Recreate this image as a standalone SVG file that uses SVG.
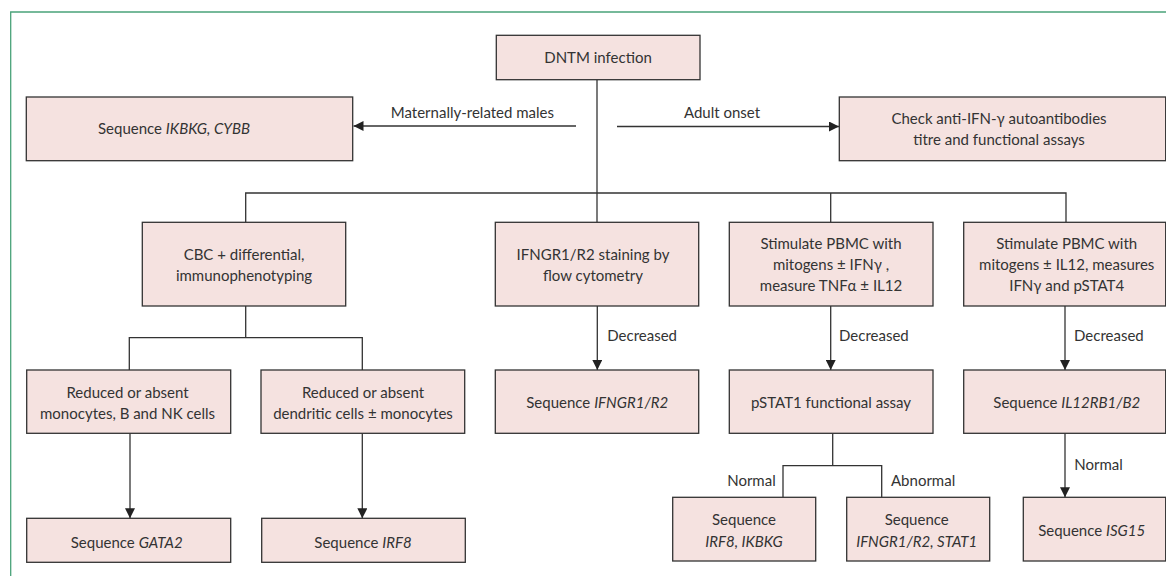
<svg xmlns="http://www.w3.org/2000/svg" width="1166" height="576" viewBox="0 0 1166 576">
<style>
.box{fill:#f5e2e0;stroke:#333;stroke-width:1.3}
.t{font-family:Lato,"Open Sans","Liberation Sans",sans-serif;font-size:15px;fill:#333;text-anchor:middle}
.l{font-family:Lato,"Open Sans","Liberation Sans",sans-serif;font-size:15px;fill:#333}
.i{font-style:italic}
.c{fill:none;stroke:#333;stroke-width:1.3}
.frame{fill:none;stroke:#4aa37a;stroke-width:1.3}
</style>
<defs>
<marker id="ah" viewBox="0 0 10 10" refX="10" refY="5" markerWidth="10" markerHeight="10" markerUnits="userSpaceOnUse" orient="auto">
<path d="M0,0 L10,5 L0,10 Z" fill="#222"/>
</marker>
</defs>
<path class="frame" d="M10.7,576 V12 H1166"/>
<g id="connectors">
<path class="c" d="M597,80 V193"/>
<path class="c" d="M576,126 H353.5" marker-end="url(#ah)"/>
<path class="c" d="M617,126.5 H839" marker-end="url(#ah)"/>
<path class="c" d="M245.7,222.3 V193 H1066 V222.3"/>
<path class="c" d="M597,193 V222.3"/>
<path class="c" d="M830.7,193 V222.3"/>
<path class="c" d="M245.7,306 V337.7"/>
<path class="c" d="M129.3,370 V337.7 H362.3 V370"/>
<path class="c" d="M597.3,306 V370" marker-end="url(#ah)"/>
<path class="c" d="M830.7,306 V370" marker-end="url(#ah)"/>
<path class="c" d="M1065,306 V370" marker-end="url(#ah)"/>
<path class="c" d="M130,433.3 V518.3" marker-end="url(#ah)"/>
<path class="c" d="M362.3,433.3 V518.3" marker-end="url(#ah)"/>
<path class="c" d="M832.7,433.3 V465.7"/>
<path class="c" d="M783,497.3 V465.7 H881.7 V497.3"/>
<path class="c" d="M1065,433.3 V497.3" marker-end="url(#ah)"/>
<text class="l" x="554" y="117.5" text-anchor="end">Maternally-related males</text>
<text class="l" x="722" y="117.5" text-anchor="middle">Adult onset</text>
<text class="l" x="607.3" y="341">Decreased</text>
<text class="l" x="839" y="341">Decreased</text>
<text class="l" x="1074" y="341">Decreased</text>
<text class="l" x="775.7" y="485.5" text-anchor="end">Normal</text>
<text class="l" x="891" y="485.5">Abnormal</text>
<text class="l" x="1074.3" y="470">Normal</text>
</g>
<g id="dntm">
<rect class="box" x="496.3" y="35.3" width="203.7" height="44.4"/>
<text class="t" x="598" y="62.5">DNTM infection</text>
</g>
<g id="seq-ikbkg-cybb">
<rect class="box" x="26.3" y="97" width="326.4" height="63.7"/>
<text class="t" x="174" y="134">Sequence <tspan class="i">IKBKG, CYBB</tspan></text>
</g>
<g id="anti-ifn">
<rect class="box" x="839.3" y="97" width="326.4" height="63.7"/>
<text class="t" x="999" y="124">Check anti-IFN-γ autoantibodies</text>
<text class="t" x="999" y="144.5">titre and functional assays</text>
</g>
<g id="cbc">
<rect class="box" x="142.3" y="222.3" width="203.4" height="83.7"/>
<text class="t" x="244" y="260">CBC + differential,</text>
<text class="t" x="244" y="281">immunophenotyping</text>
</g>
<g id="ifngr-staining">
<rect class="box" x="495.3" y="222.3" width="203.4" height="83.7"/>
<text class="t" x="593" y="260">IFNGR1/R2 staining by</text>
<text class="t" x="593" y="281">flow cytometry</text>
</g>
<g id="stim-ifn">
<rect class="box" x="729.3" y="222.3" width="203.7" height="83.7"/>
<text class="t" x="831" y="248.5">Stimulate PBMC with</text>
<text class="t" x="831" y="270">mitogens ± IFNγ ,</text>
<text class="t" x="831" y="291">measure TNFα ± IL12</text>
</g>
<g id="stim-il12">
<rect class="box" x="963.7" y="222.3" width="202" height="83.7"/>
<text class="t" x="1066.7" y="248.5">Stimulate PBMC with</text>
<text class="t" x="1066.7" y="270">mitogens ± IL12, measures</text>
<text class="t" x="1066.7" y="291">IFNγ and pSTAT4</text>
</g>
<g id="reduced-mono">
<rect class="box" x="26.7" y="370" width="204" height="63.3"/>
<text class="t" x="127.5" y="397.5">Reduced or absent</text>
<text class="t" x="127.5" y="418.5">monocytes, B and NK cells</text>
</g>
<g id="reduced-dc">
<rect class="box" x="261" y="370" width="203.7" height="63.3"/>
<text class="t" x="363" y="397.5">Reduced or absent</text>
<text class="t" x="363" y="418.5">dendritic cells ± monocytes</text>
</g>
<g id="seq-ifngr">
<rect class="box" x="495.3" y="370" width="203.4" height="63.3"/>
<text class="t" x="597.2" y="407.5">Sequence <tspan class="i">IFNGR1/R2</tspan></text>
</g>
<g id="pstat1">
<rect class="box" x="729.3" y="370" width="203.7" height="63.3"/>
<text class="t" x="831" y="407.5">pSTAT1 functional assay</text>
</g>
<g id="seq-il12rb">
<rect class="box" x="963.7" y="370" width="202" height="63.3"/>
<text class="t" x="1066.8" y="407.5">Sequence <tspan class="i">IL12RB1/B2</tspan></text>
</g>
<g id="seq-gata2">
<rect class="box" x="26.7" y="518.3" width="204" height="44"/>
<text class="t" x="126.7" y="547.5">Sequence <tspan class="i">GATA2</tspan></text>
</g>
<g id="seq-irf8">
<rect class="box" x="261.7" y="518.3" width="203.6" height="44"/>
<text class="t" x="363" y="547.5">Sequence <tspan class="i">IRF8</tspan></text>
</g>
<g id="seq-irf8-ikbkg">
<rect class="box" x="672.7" y="497.3" width="143" height="63.7"/>
<text class="t" x="744" y="525">Sequence</text>
<text class="t" x="744" y="547" font-style="italic">IRF8, IKBKG</text>
</g>
<g id="seq-ifngr-stat1">
<rect class="box" x="846.7" y="497.3" width="143" height="63.7"/>
<text class="t" x="916.7" y="525">Sequence</text>
<text class="t" x="916.7" y="547" font-style="italic">IFNGR1/R2, STAT1</text>
</g>
<g id="seq-isg15">
<rect class="box" x="1023.3" y="497.3" width="142.4" height="63.7"/>
<text class="t" x="1091.7" y="536">Sequence <tspan class="i">ISG15</tspan></text>
</g>
</svg>
